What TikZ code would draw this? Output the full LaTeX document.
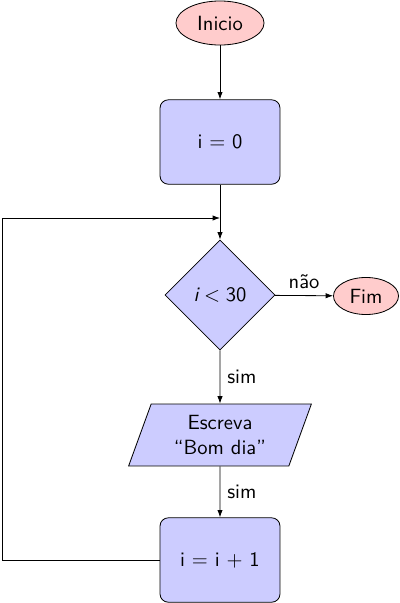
\documentclass[tikz,border=0pt]{standalone}
\usetikzlibrary{shapes.geometric,arrows.meta}
\begin{document}
\begin{tikzpicture}[x=0.486pt,y=-0.486pt,
  every node/.style={font=\sffamily},
  startstop/.style={ellipse,draw,fill=red!20,inner sep=1pt},
  procbox/.style={rectangle,rounded corners=4pt,draw,fill=blue!20,minimum width=58.3pt,minimum height=41pt},
  decision/.style={diamond,draw,fill=blue!20,minimum width=53.5pt,minimum height=53.5pt,inner sep=0pt},
  iobox/.style={trapezium,trapezium left angle=70,trapezium right angle=110,draw,fill=blue!20,minimum width=89pt,minimum height=28.2pt,align=center,inner sep=1pt},
  conn/.style={draw,-{Latex[length=3.6pt,width=2.6pt]}},
  lbl/.style={font=\sffamily}
]
\useasboundingbox (0,0) rectangle (400,603);
\node[startstop,minimum width=42.8pt,minimum height=21.4pt] (ini) at (220,23) {Inicio};
\node[procbox] (i0) at (220,142) {i = 0};
\node[decision] (dec) at (220,295) {$\mbox{\itshape i} < \mbox{30}$};
\node[startstop,minimum width=31.6pt,minimum height=18pt] (fim) at (366,296) {Fim};
\node[iobox] (io) at (220,435) {Escreva\\``Bom dia''};
\node[procbox] (inc) at (220,560) {i = i + 1};
\coordinate (loopL) at (2,560);
\coordinate (loopT) at (2,218);
\coordinate (join) at (220,218);
\draw[conn] (ini) -- (i0);
\draw (i0) -- (join);
\draw[conn] (join) -- (dec);
\draw[conn] (dec) -- node[lbl,above] {não} (fim);
\draw[conn] (dec) -- node[lbl,right] {sim} (io);
\draw[conn] (io) -- node[lbl,right] {sim} (inc);
\draw (inc.west) -- (loopL) -- (loopT);
\draw[conn] (loopT) -- (join);
\end{tikzpicture}
\end{document}
